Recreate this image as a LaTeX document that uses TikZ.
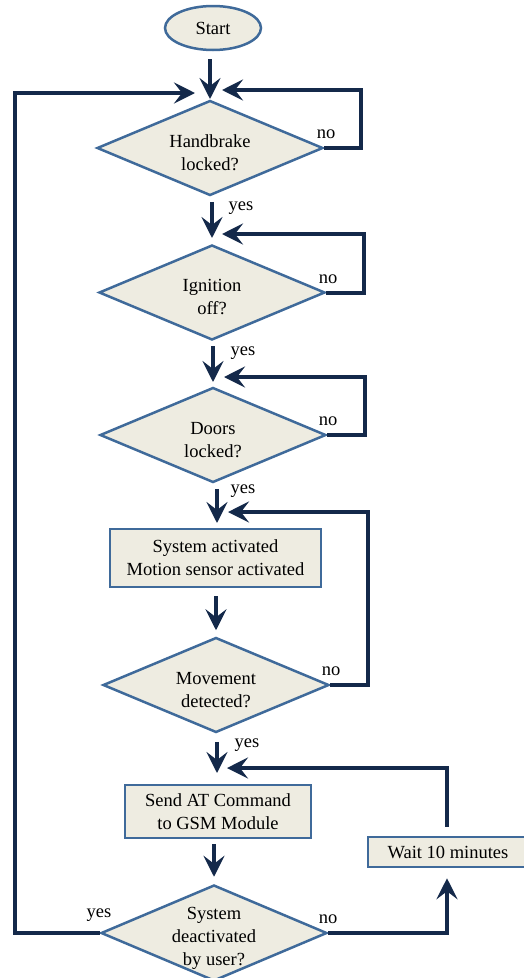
\documentclass[tikz,border=0pt]{standalone}
\usepackage{fontspec}
\setmainfont{Liberation Serif}
\usetikzlibrary{shapes.geometric,arrows.meta}
\definecolor{beige}{HTML}{EEECE1}
\definecolor{bord}{HTML}{3F6A9A}
\definecolor{navy}{HTML}{14294A}
\tikzset{
  every node/.style={font=\fontsize{18.5}{23}\selectfont},
  term/.style={ellipse, draw=bord, fill=beige, line width=2.5pt, minimum width=96pt, minimum height=44pt, inner sep=0pt},
  dec/.style={diamond, draw=bord, fill=beige, line width=2.5pt, minimum width=226pt, minimum height=95pt, inner sep=0pt},
  proc/.style={rectangle, draw=bord, fill=beige, line width=2.5pt, align=center, inner sep=0pt},
  txt/.style={align=center, inner sep=0pt},
  lbl/.style={inner sep=0pt},
  arr/.style={draw=navy, line width=4pt, line join=miter, -{Stealth[length=21pt,width=21pt,inset=8pt]}}
}
\begin{document}
\begin{tikzpicture}[x=1pt,y=-1pt]
\useasboundingbox (0,0) rectangle (523,978);
% nodes
\node[term] (start) at (213,28) {Start};
\node[dec] (h1) at (210,148) {};
\node[txt] (h1t) at (210,153) {Handbrake\\locked?};
\node[dec] (ig) at (212,292.5) {};
\node[txt] (igt) at (212,297) {Ignition\\off?};
\node[dec] (dr) at (213,435) {};
\node[txt] (drt) at (213,440) {Doors\\locked?};
\node[proc, minimum width=211pt, minimum height=58pt] (r1) at (215.5,558) {System activated\\Motion sensor activated};
\node[dec] (mv) at (216,685) {};
\node[txt] (mvt) at (216,690) {Movement\\detected?};
\node[proc, minimum width=186pt, minimum height=53pt] (send) at (218,811.5) {Send AT Command\\to GSM Module};
\node[dec, minimum height=96pt] (d6) at (214,933) {};
\node[txt] (d6t) at (214,938) {System\\deactivated\\by user?};
\node[proc, minimum width=160pt, minimum height=30pt] (wait) at (448,852) {Wait 10 minutes};
% coordinates
\coordinate (j1) at (210,99);
\coordinate (j1l) at (195,93);
\coordinate (L) at (15,93);
\coordinate (R1) at (361,90);
\coordinate (j1r) at (222,90);
\coordinate (j2) at (212,238);
\coordinate (R2) at (364,234);
\coordinate (j2r) at (222,234);
\coordinate (j3) at (213,382);
\coordinate (R3) at (365,377);
\coordinate (j3r) at (224,377);
\coordinate (j4) at (217,523);
\coordinate (R4) at (368,512);
\coordinate (j4r) at (228,512);
\coordinate (j6) at (217,773);
\coordinate (R6) at (447,768);
\coordinate (j6r) at (227,768);
% connectors
\draw[arr, shorten <=8pt] (start.south -| j1) -- (j1);
\draw[arr] (d6.west) -| (L) -- (j1l);
\draw[arr] (h1.east) -| (R1) -- (j1r);
\draw[arr, shorten <=5pt] (h1.south -| j2) -- (j2);
\draw[arr] (ig.east) -| (R2) -- (j2r);
\draw[arr, shorten <=5pt] (ig.south -| j3) -- (j3);
\draw[arr] (dr.east) -| (R3) -- (j3r);
\draw[arr, shorten <=5pt] (dr.south -| j4) -- (j4);
\draw[arr] (mv.east) -| (R4) -- (j4r);
\draw[arr, shorten <=8pt, shorten >=6pt] (r1.south -| mv.north) -- (mv.north);
\draw[arr, shorten <=8pt] (mv.south -| j6) -- (j6);
\draw[arr, shorten <=9pt] (wait.north -| R6) -- (R6) -- (j6r);
\draw[arr, shorten <=5pt, shorten >=7pt] (send.south -| d6.north) -- (d6.north);
\draw[arr, shorten >=10pt] (d6.east) -| (wait.south -| R6);
% labels
\node[lbl] (n1) at (326,134) {no};
\node[lbl] (n2) at (328,279) {no};
\node[lbl] (n3) at (328,421) {no};
\node[lbl] (n4) at (331,671) {no};
\node[lbl] (n5) at (328,919) {no};
\node[lbl] (y1) at (241,208) {yes};
\node[lbl] (y2) at (243,353) {yes};
\node[lbl] (y3) at (243,491) {yes};
\node[lbl] (y4) at (247,745) {yes};
\node[lbl] (y5) at (99,915) {yes};
\end{tikzpicture}
\end{document}
